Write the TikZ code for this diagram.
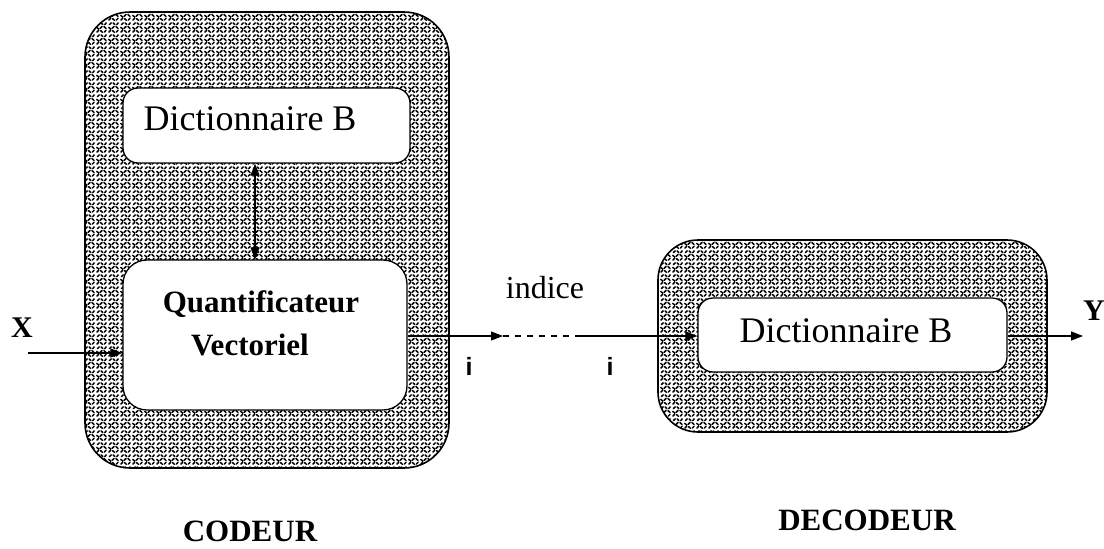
\documentclass[tikz,border=0pt]{standalone}
\usepackage{fontspec}
\setmainfont{Liberation Serif}
\newfontfamily\arialf{Liberation Sans}
\usetikzlibrary{patterns,arrows.meta}
\pgfdeclarepatternformonly{speckle}{\pgfpointorigin}{\pgfqpoint{12pt}{12pt}}{\pgfqpoint{12pt}{12pt}}{%
  \pgfsetlinewidth{1.6pt}\pgfsetroundcap
  \pgfpathmoveto{\pgfqpoint{1pt}{1pt}}\pgfpathlineto{\pgfqpoint{3pt}{3pt}}
  \pgfpathmoveto{\pgfqpoint{5pt}{2.5pt}}\pgfpathlineto{\pgfqpoint{7pt}{0.8pt}}
  \pgfpathmoveto{\pgfqpoint{9pt}{1pt}}\pgfpathlineto{\pgfqpoint{11pt}{3pt}}
  \pgfpathmoveto{\pgfqpoint{0.8pt}{6pt}}\pgfpathlineto{\pgfqpoint{2.8pt}{4.5pt}}
  \pgfpathmoveto{\pgfqpoint{4.5pt}{5pt}}\pgfpathlineto{\pgfqpoint{6.5pt}{7pt}}
  \pgfpathmoveto{\pgfqpoint{8.5pt}{7pt}}\pgfpathlineto{\pgfqpoint{10.8pt}{5pt}}
  \pgfpathmoveto{\pgfqpoint{1.5pt}{9pt}}\pgfpathlineto{\pgfqpoint{3.5pt}{11pt}}
  \pgfpathmoveto{\pgfqpoint{5.5pt}{11pt}}\pgfpathlineto{\pgfqpoint{7.5pt}{9pt}}
  \pgfpathmoveto{\pgfqpoint{9.5pt}{9pt}}\pgfpathlineto{\pgfqpoint{11pt}{11pt}}
  \pgfusepath{stroke}}
\begin{document}
\begin{tikzpicture}[x=1pt,y=-1pt,
  outerbox/.style={draw=black,line width=1.6pt,pattern=speckle,pattern color=black},
  innerbox/.style={draw=black,line width=1.3pt,fill=white},
  arr/.style={-{Triangle[length=12pt,width=9pt]}},
  conn/.style={line width=1.2pt,arr},
  lbl/.style={inner sep=0pt,anchor=base}]
\useasboundingbox (0,0) rectangle (1104,549);
% codeur
\path[outerbox,rounded corners=45pt] (85,12) rectangle (449,468);
\node[innerbox,rounded corners=15pt,minimum width=287pt,minimum height=75pt] (dictA) at (266.5,125.5) {};
\node[lbl,font=\fontsize{36}{36}\selectfont] (tA) at (250,130) {Dictionnaire B};
\node[innerbox,rounded corners=24pt,minimum width=284pt,minimum height=150pt] (quant) at (265,335) {};
\node[lbl,font=\bfseries\fontsize{31}{31}\selectfont] (q1) at (261,312) {Quantificateur};
\node[lbl,font=\bfseries\fontsize{31}{31}\selectfont] (q2) at (250,355) {Vectoriel};
\draw[line width=1.2pt,{Triangle[length=12pt,width=9pt]}-{Triangle[length=12pt,width=9pt]}] (dictA.south -| 255,0) -- (quant.north -| 255,0);
% decodeur
\path[outerbox,rounded corners=40pt] (658,240) rectangle (1047,432);
\node[innerbox,rounded corners=15pt,minimum width=309pt,minimum height=74pt] (dictB) at (852.5,335) {};
\node[lbl,font=\fontsize{36}{36}\selectfont] (tB) at (846,342) {Dictionnaire B};
% connectors
\coordinate (xin) at (28,353);
\draw[conn] (xin) -- (quant.west |- xin);
\node[lbl,font=\bfseries\fontsize{30}{30}\selectfont] (X) at (22,337) {X};
\coordinate (a1) at (503,336);
\coordinate (a2) at (577,336);
\draw[conn] (quant.east |- a1) -- (a1);
\draw[line width=1.2pt,dash pattern=on 6pt off 6pt] (a1) -- (a2);
\draw[conn] (a2) -- (dictB.west |- a2);
\node[lbl,font=\fontsize{32}{32}\selectfont] (ind) at (545,298) {indice};
\node[lbl,font=\arialf\bfseries\fontsize{25}{25}\selectfont] (i1) at (469,375) {i};
\node[lbl,font=\arialf\bfseries\fontsize{25}{25}\selectfont] (i2) at (610,375) {i};
\coordinate (yend) at (1083,336);
\draw[conn] (dictB.east |- yend) -- (yend);
\node[lbl,font=\bfseries\fontsize{30}{30}\selectfont] (Y) at (1094,320) {Y};
\node[lbl,font=\bfseries\fontsize{31}{31}\selectfont] (cod) at (250,541) {CODEUR};
\node[lbl,font=\bfseries\fontsize{31}{31}\selectfont] (dec) at (867,530) {DECODEUR};
\end{tikzpicture}
\end{document}
